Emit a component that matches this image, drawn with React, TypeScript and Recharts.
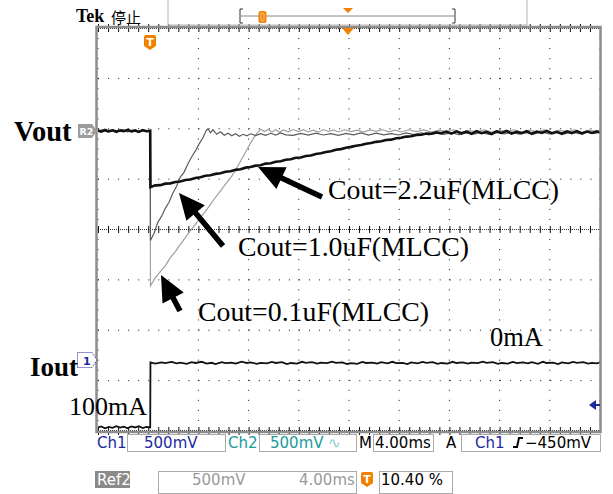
import { LineChart, Line, XAxis, YAxis, CartesianGrid, ReferenceLine } from 'recharts';

// Horizontal: 4 ms/div, 10 divisions, trigger at 10.40 % of record
const T_MIN = -4.16;
const T_MAX = 35.84;
// Ch2 (Vout, AC coupled) 500 mV/div, ground marker 1.94 div above centre
const V2_MIN = -2970;
const V2_MAX = 1030;
// Ch1 (Iout) 500 mV/div, marker 2.61 div below centre
const V1_MIN = -695;
const V1_MAX = 3305;

const xTicks = Array.from({ length: 11 }, (_, i) => T_MIN + 4 * i);
const yTicks = Array.from({ length: 9 }, (_, i) => V2_MIN + 500 * i);

// [time ms, mV]
const cout22: [number, number][] = [
  [-4.16, 12], [-3.9, 2], [-3.6, 18], [-3.3, 4], [-3.0, 15], [-2.7, 0], [-2.4, 14], [-2.1, 6],
  [-1.8, 19], [-1.5, 3], [-1.2, 13], [-0.9, -1], [-0.6, 16], [-0.3, 5], [0, 10],
  [0.02, -550], [0.4, -532], [0.8, -530], [1.2, -515], [1.6, -512], [2.0, -498], [2.4, -494],
  [2.8, -478], [3.2, -474], [3.6, -458], [4.0, -452], [4.4, -436], [4.8, -432], [5.2, -418],
  [5.6, -412], [6.0, -396], [6.4, -392], [6.8, -378], [7.2, -372], [7.6, -356], [8.0, -350],
  [8.4, -336], [8.8, -332], [9.2, -316], [9.6, -312], [10.0, -298], [10.4, -292], [10.8, -278],
  [11.2, -272], [11.6, -258], [12.0, -256], [12.4, -240], [12.8, -236], [13.2, -220], [13.6, -214],
  [14.0, -200], [14.4, -193], [14.8, -178], [15.2, -172], [15.6, -158], [16.0, -150], [16.4, -138],
  [16.8, -132], [17.2, -118], [17.6, -112], [18.0, -100], [18.4, -94], [18.8, -82], [19.2, -78],
  [19.6, -64], [20.0, -60], [20.4, -48], [20.8, -44], [21.2, -32], [21.6, -30], [22.0, -18],
  [22.4, -20], [22.8, -6], [23.2, -14], [23.6, 2], [24.0, -18], [24.4, 4], [24.8, -16], [25.2, 2],
  [25.6, -20], [26.0, 6], [26.4, -14], [26.8, 0], [27.2, -22], [27.6, 4], [28.0, -12], [28.4, 8],
  [28.8, -18], [29.2, 0], [29.6, -14], [30.0, 6], [30.4, -20], [30.8, 2], [31.2, -12], [31.6, 8],
  [32.0, -16], [32.4, 0], [32.8, -20], [33.2, 4], [33.6, -14], [34.0, 6], [34.4, -18], [34.8, 2],
  [35.2, -12], [35.6, 4], [35.84, -8],
];

const cout10: [number, number][] = [
  [-4.16, 8], [-3.8, 20], [-3.4, 0], [-3.0, 16], [-2.6, 4], [-2.2, 22], [-1.8, 2], [-1.4, 14],
  [-1.0, -2], [-0.6, 18], [-0.2, 6], [0, 12],
  [0.02, -1080], [0.3, -1010], [0.6, -900], [0.9, -840], [1.2, -760], [1.5, -700], [1.8, -610],
  [2.1, -540], [2.4, -450], [2.7, -400], [3.0, -320], [3.3, -250], [3.6, -190], [3.9, -120],
  [4.2, -60], [4.45, 10], [4.6, 30], [4.8, -10], [5.0, 20], [5.3, -25], [5.6, 0], [5.9, -35],
  [6.2, -15], [6.5, -40], [6.8, -20], [7.1, -45], [7.4, -25], [7.7, -40], [8.0, -20], [8.4, -38],
  [8.8, -18], [9.2, -35], [9.6, -15], [10.0, -32], [10.4, -12], [10.8, -30], [11.4, -36], [12.0, -16],
  [12.6, -34], [13.2, -14], [13.8, -32], [14.4, -18], [15.0, -36], [15.6, -16], [16.2, -30],
  [16.8, -12], [17.4, -34], [18.0, -14], [18.6, -30], [19.2, -18], [19.8, -32], [20.4, -12],
  [21.0, -28], [21.6, -10], [22.2, -30], [22.8, -14], [23.4, -26], [24.0, -8], [24.6, -28],
  [25.2, -12], [25.8, -24], [26.4, -6], [27.0, -26], [27.6, -10], [28.2, -22], [28.8, -4],
  [29.4, -24], [30.0, -8], [30.6, -20], [31.2, -2], [31.8, -22], [32.4, -6], [33.0, -20],
  [33.6, -4], [34.2, -18], [34.8, 0], [35.4, -16], [35.84, -6],
];

const cout01: [number, number][] = [
  [-4.16, 4], [-3.8, 14], [-3.4, -2], [-3.0, 20], [-2.6, 6], [-2.2, 12], [-1.8, -4], [-1.4, 18],
  [-1.0, 2], [-0.6, 14], [-0.2, 0], [0, 10],
  [0.02, -1530], [0.4, -1450], [0.85, -1380], [1.2, -1330], [1.6, -1250], [2.0, -1190],
  [2.44, -1110], [2.8, -1050], [3.2, -980], [3.6, -920], [4.03, -850], [4.4, -790], [4.8, -720],
  [5.2, -650], [5.62, -585], [6.0, -520], [6.42, -455], [6.8, -380], [7.21, -290], [7.6, -200],
  [8.0, -110], [8.3, -50], [8.56, -5], [8.8, 24], [9.1, 2], [9.4, 22], [9.7, -2], [10.0, 20],
  [10.3, -4], [10.6, 18], [11.0, 0], [11.4, 22], [11.8, 2], [12.2, 20], [12.6, -2], [13.0, 16],
  [13.4, -4], [13.8, 22], [14.2, 4], [14.6, 18], [15.0, -2], [15.5, 20], [16.0, 2], [16.5, 16],
  [17.0, -4], [17.5, 18], [18.0, 4], [18.5, 22], [19.0, 0], [19.5, 16], [20.0, -2], [20.6, 20],
  [21.2, 2], [21.8, 18], [22.4, -4], [23.0, 16], [23.6, 2], [24.2, 20], [24.8, -2], [25.4, 14],
  [26.0, 0], [26.6, 18], [27.2, -4], [27.8, 14], [28.4, 2], [29.0, 20], [29.6, -2], [30.2, 16],
  [30.8, 0], [31.4, 18], [32.0, -4], [32.6, 14], [33.2, 2], [33.8, 20], [34.4, -2], [35.0, 16],
  [35.6, 2], [35.84, 12],
];

const iout: [number, number][] = [
  [-4.16, -660], [-3.9, -650], [-3.6, -668], [-3.3, -655], [-3.0, -664], [-2.7, -648],
  [-2.4, -662], [-2.1, -652], [-1.8, -668], [-1.5, -650], [-1.2, -660], [-0.9, -648],
  [-0.6, -666], [-0.3, -654], [0, -660],
  [0.02, -15], [0.4, -26], [0.9, -14], [1.2, -22], [1.7, -10], [2.1, -24], [2.4, -16], [2.9, -28],
  [3.3, -12], [3.6, -20], [4.1, -8], [4.5, -26], [4.9, -18], [5.2, -30], [5.7, -12], [6.0, -22],
  [6.5, -16], [6.8, -26], [7.3, -6], [7.7, -20], [8.0, -14], [8.5, -28], [8.8, -18], [9.3, -24],
  [9.7, -10], [10.0, -20], [10.5, -12], [10.9, -30], [11.2, -20], [11.7, -26], [12.1, -8],
  [12.4, -18], [12.9, -12], [13.3, -26], [13.6, -16], [14.1, -22], [14.5, -6], [14.8, -18],
  [15.3, -14], [15.7, -30], [16.0, -22], [16.5, -28], [16.9, -10], [17.2, -20], [17.7, -16],
  [18.1, -26], [18.4, -12], [18.9, -24], [19.3, -8], [19.6, -22], [20.1, -18], [20.5, -30],
  [20.8, -14], [21.3, -24], [21.7, -10], [22.0, -18], [22.5, -12], [22.9, -28], [23.2, -20],
  [23.7, -26], [24.1, -8], [24.4, -20], [24.9, -14], [25.3, -26], [25.6, -16], [26.1, -22],
  [26.5, -6], [26.8, -18], [27.3, -12], [27.7, -28], [28.0, -20], [28.5, -26], [28.9, -10],
  [29.2, -22], [29.7, -14], [30.1, -24], [30.4, -12], [30.9, -28], [31.3, -8], [31.6, -20],
  [32.1, -16], [32.5, -30], [32.8, -14], [33.3, -24], [33.7, -10], [34.0, -18], [34.5, -12],
  [34.9, -26], [35.2, -18], [35.6, -24], [35.84, -14],
];

const toPts = (arr: [number, number][]) => arr.map(([t, v]) => ({ t, v }));

const ORANGE = '#f08000';
const BLUE = '#1c2a9e';
const TEAL = '#1a9c9c';
const serif = '"Liberation Serif", "Times New Roman", serif';
const sans = '"DejaVu Sans", sans-serif';

// filled block arrow from tail to tip
function Arrow({ tip, tail }: { tip: [number, number]; tail: [number, number] }) {
  const [tx, ty] = tip;
  const [sx, sy] = tail;
  const len = Math.hypot(sx - tx, sy - ty);
  const ux = (sx - tx) / len;
  const uy = (sy - ty) / len;
  const nx = -uy;
  const ny = ux;
  const head = 26, half = 12, shaft = 2.8;
  const bx = tx + ux * head, by = ty + uy * head;
  const pts = [
    [tx, ty],
    [bx + nx * half, by + ny * half],
    [bx + nx * shaft, by + ny * shaft],
    [sx + nx * shaft, sy + ny * shaft],
    [sx - nx * shaft, sy - ny * shaft],
    [bx - nx * shaft, by - ny * shaft],
    [bx - nx * half, by - ny * half],
  ];
  return <polygon points={pts.map((p) => p.join(',')).join(' ')} fill="#000" />;
}

function TBadge({ x, y }: { x: number; y: number }) {
  return (
    <g>
      <path d={`M${x},${y + 2} q0,-2 2,-2 h8 q2,0 2,2 v9 l-6,4 l-6,-4 z`} fill={ORANGE} />
      <text x={x + 6} y={y + 11} textAnchor="middle" fontSize={11} fontWeight="bold" fill="#fff" fontFamily={sans}>T</text>
    </g>
  );
}

function Overlay() {
  const st = { fontFamily: sans, fontSize: 15 };
  return (
    <svg width={613} height={494} style={{ position: 'absolute', left: 0, top: 0, pointerEvents: 'none' }}>
      {/* top bar */}
      <text x={76} y={22} fontFamily={serif} fontWeight="bold" fontSize={18}>Tek</text>
      <text x={111} y={23} fontFamily='"Noto Sans CJK SC", sans-serif' fontSize={15}>停止</text>
      <line x1={168} y1={0} x2={168} y2={25} stroke="#b4b4b4" />
      <line x1={527} y1={0} x2={527} y2={25} stroke="#b4b4b4" />
      <line x1={168} y1={25} x2={527} y2={25} stroke="#b4b4b4" />
      <path d="M243,9 H240 V23 H243" stroke="#333" fill="none" />
      <path d="M452,9 H455 V23 H452" stroke="#333" fill="none" />
      <line x1={240} y1={16} x2={455} y2={16} stroke="#888" />
      <rect x={258.5} y={11} width={8} height={12} rx={2.5} fill={ORANGE} />
      <rect x={261} y={13} width={3} height={8} rx={1} fill="none" stroke="#ffd9a8" strokeWidth={0.8} />
      <polygon points="343,8 353,8 348,13" fill={ORANGE} />

      {/* graticule frame */}
      <rect x={96.5} y={27} width={504} height={405} fill="none" stroke="#8c8c8c" strokeWidth={2.5} />
      <polygon points="342,28 354,28 348,35" fill={ORANGE} />
      <TBadge x={144} y={35} />

      {/* channel markers */}
      <polygon points="78,124 92,124 97,131 92,138 78,138" fill="#9c9c9c" />
      <text x={79.5} y={135} fontFamily={sans} fontSize={9.5} fontWeight="bold" fill="#fff">R2</text>
      <polygon points="77.5,352.5 92,352.5 97,360 92,367.5 77.5,367.5" fill="#fff" stroke={BLUE} strokeDasharray="1 1" />
      <text x={83} y={365} fontFamily={sans} fontSize={11} fontWeight="bold" fill={BLUE}>1</text>
      <polygon points="589,405 596,400 596,410" fill={BLUE} />
      <line x1={596} y1={405} x2={600} y2={405} stroke={BLUE} strokeWidth={2} />

      {/* annotations */}
      <text x={14} y={141} fontFamily={serif} fontWeight="bold" fontSize={28.5}>Vout</text>
      <text x={30} y={376} fontFamily={serif} fontWeight="bold" fontSize={27}>Iout</text>
      <text x={69} y={415} fontFamily={serif} fontSize={26}>100mA</text>
      <text x={490} y={346} fontFamily={serif} fontSize={26.5}>0mA</text>
      <text x={328} y={199} fontFamily={serif} fontSize={27.8}>Cout=2.2uF(MLCC)</text>
      <text x={238} y={256} fontFamily={serif} fontSize={27.8}>Cout=1.0uF(MLCC)</text>
      <text x={198} y={321} fontFamily={serif} fontSize={27.8}>Cout=0.1uF(MLCC)</text>
      <Arrow tip={[258, 167]} tail={[322, 197]} />
      <Arrow tip={[179, 193]} tail={[223, 246]} />
      <Arrow tip={[161, 275]} tail={[180, 311]} />

      {/* status line 1 */}
      <g {...st}>
        <text x={97} y={448} fill={BLUE}>Ch1</text>
        <rect x={127.5} y={434.5} width={98} height={17} fill="none" stroke="#aaa" />
        <text x={144} y={448} fill={BLUE}>500mV</text>
        <text x={228} y={448} fill={TEAL}>Ch2</text>
        <rect x={259.5} y={434.5} width={97} height={17} fill="none" stroke="#aaa" />
        <text x={270} y={448} fill={TEAL}>500mV</text>
        <text x={328} y={448} fill="#7fd0d0">∿</text>
        <text x={359} y={448} fill="#000">M</text>
        <rect x={373.5} y={434.5} width={60} height={17} fill="none" stroke="#aaa" />
        <text x={375} y={448} fill="#000">4.00ms</text>
        <text x={446} y={448} fill="#000">A</text>
        <rect x={461.5} y={434.5} width={139} height={17} fill="none" stroke="#aaa" />
        <text x={475} y={448} fill={BLUE}>Ch1</text>
        <text x={525} y={448} fill="#000">−450mV</text>
      </g>
      <path d="M513,447 H517 L519,438 H523" stroke="#000" strokeWidth={2} fill="none" />

      {/* status line 2 */}
      <g {...st}>
        <rect x={95} y={471} width={35} height={17} fill="#8a8a8a" />
        <text x={97} y={485} fill="#fff">Ref2</text>
        <rect x={158.5} y={471.5} width={198} height={22} fill="none" stroke="#aaa" />
        <text x={192} y={485} fill="#999">500mV</text>
        <text x={299} y={485} fill="#999">4.00ms</text>
        <rect x={379.5} y={471.5} width={73} height={22} fill="none" stroke="#aaa" />
        <text x={381} y={485} fill="#000">10.40 %</text>
      </g>
      <TBadge x={361} y={472} />
    </svg>
  );
}

export default function App() {
  return (
    <div style={{ position: 'absolute', left: 0, top: 0, width: 613, height: 494, background: '#fff' }}>
      <LineChart width={613} height={494} margin={{ top: 28, right: 13, bottom: 63, left: 98 }}>
        <XAxis dataKey="t" type="number" domain={[T_MIN, T_MAX]} ticks={xTicks} hide allowDataOverflow />
        <YAxis yAxisId="v2" type="number" domain={[V2_MIN, V2_MAX]} ticks={yTicks} hide allowDataOverflow />
        <YAxis yAxisId="i1" type="number" domain={[V1_MIN, V1_MAX]} hide allowDataOverflow />
        <CartesianGrid yAxisId="v2" stroke="#111" strokeDasharray="1 9.05" />
        {/* centre crosshair with minor ticks */}
        <ReferenceLine x={xTicks[5]} stroke="#333" strokeDasharray="1 1" />
        <ReferenceLine x={xTicks[5]} stroke="#111" strokeWidth={7} strokeDasharray="1 9.075" />
        <ReferenceLine yAxisId="v2" y={yTicks[4]} stroke="#333" strokeDasharray="1 1" />
        <ReferenceLine yAxisId="v2" y={yTicks[4]} stroke="#111" strokeWidth={7} strokeDasharray="1 9.04" />
        {/* edge ticks */}
        <ReferenceLine x={T_MIN} stroke="#111" strokeWidth={8} strokeDasharray="1 9.075" />
        <ReferenceLine x={T_MAX} stroke="#111" strokeWidth={8} strokeDasharray="1 9.075" />
        <ReferenceLine yAxisId="v2" y={V2_MIN} stroke="#111" strokeWidth={8} strokeDasharray="1 9.04" />
        <ReferenceLine yAxisId="v2" y={V2_MAX} stroke="#111" strokeWidth={8} strokeDasharray="1 9.04" />
        <ReferenceLine x={T_MIN} stroke="#333" strokeWidth={2} strokeDasharray="1 1" />
        <ReferenceLine x={T_MAX} stroke="#333" strokeWidth={2} strokeDasharray="1 1" />
        <ReferenceLine yAxisId="v2" y={V2_MIN} stroke="#333" strokeWidth={2} strokeDasharray="1 1" />
        <ReferenceLine yAxisId="v2" y={V2_MAX} stroke="#333" strokeWidth={2} strokeDasharray="1 1" />

        <Line yAxisId="v2" data={toPts(cout01)} dataKey="v" type="linear" stroke="#a0a0a0" strokeWidth={1.2} dot={false} isAnimationActive={false} />
        <Line yAxisId="v2" data={toPts(cout10)} dataKey="v" type="linear" stroke="#5c5c5c" strokeWidth={1.2} dot={false} isAnimationActive={false} />
        <Line yAxisId="v2" data={toPts(cout22)} dataKey="v" type="linear" stroke="#111" strokeWidth={2.6} dot={false} isAnimationActive={false} />
        <Line yAxisId="i1" data={toPts(iout)} dataKey="v" type="linear" stroke="#111" strokeWidth={1.8} dot={false} isAnimationActive={false} />
      </LineChart>
      <Overlay />
    </div>
  );
}
